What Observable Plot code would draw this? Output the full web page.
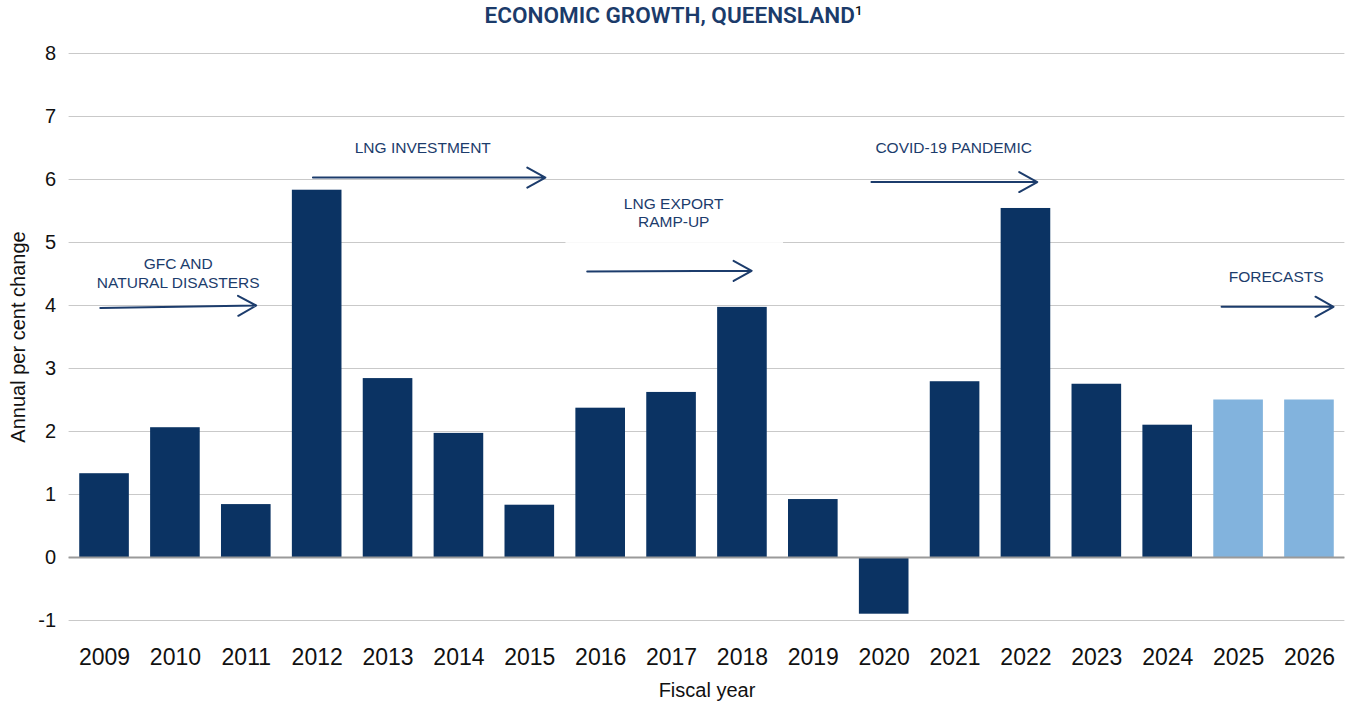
<!DOCTYPE html>
<html>
<head>
<meta charset="utf-8">
<script src="https://cdn.jsdelivr.net/npm/d3@7"></script>
<script src="https://cdn.jsdelivr.net/npm/@observablehq/plot@0.6"></script>
<style>
  html, body { margin: 0; padding: 0; background: #fff; }
  #title {
    height: 32px; line-height: 32px; text-align: center; white-space: nowrap;
  }
  #title span {
    display: inline-block; transform-origin: center;
    font-family: Roboto, "DejaVu Sans Condensed", sans-serif;
    font-weight: 600; font-size: 22px; color: #1b3b6a;
  }
  #title sup { color: #111; font-size: 13px; vertical-align: 8px; line-height: 0; font-weight: 500; }
  #chart svg { display: block; font-family: "Liberation Sans", Arial, sans-serif; }
</style>
</head>
<body>
<div id="title"><span id="tt">ECONOMIC GROWTH, QUEENSLAND<sup>1</sup></span></div>
<div id="chart"></div>
<script>
// Fiscal years and annual per cent change in Queensland GSP
const years    = [2009, 2010, 2011, 2012, 2013, 2014, 2015, 2016, 2017, 2018, 2019, 2020, 2021, 2022, 2023, 2024, 2025, 2026];
const growth   = [1.33, 2.06, 0.84, 5.83, 2.84, 1.97, 0.83, 2.37, 2.62, 3.97, 0.92, -0.90, 2.79, 5.54, 2.75, 2.10, 2.50, 2.50];
const forecast = [false, false, false, false, false, false, false, false, false, false, false, false, false, false, false, false, true, true];
const yTicks   = [-1, 0, 1, 2, 3, 4, 5, 6, 7, 8];

// Period annotations (text label and arrow extent in fiscal-year units)
const annLabels = ["GFC AND\nNATURAL DISASTERS", "LNG INVESTMENT", "LNG EXPORT\nRAMP-UP", "COVID-19 PANDEMIC", "FORECASTS"];
const annTextX  = [2010.04, 2013.49, 2017.03, 2020.98, 2025.53];
const annTextY  = [4.52, 6.52, 5.48, 6.52, 4.46];
const arrowX1   = [2008.94, 2011.94, 2015.81, 2019.82, 2024.76];
const arrowX2   = [2011.14, 2015.22, 2018.13, 2022.16, 2026.34];
const arrowY1   = [3.96, 6.03, 4.54, 5.96, 3.98];
const arrowY2   = [4.00, 6.03, 4.55, 5.96, 3.98];

const DARK = "#0b3363", LIGHT = "#82b3dd", ANN = "#1c3c6c";

const data = years.map((year, i) => ({year, value: growth[i], forecast: forecast[i]}));
const ann = annLabels.map((label, i) => ({label, tx: annTextX[i], ty: annTextY[i], x1: arrowX1[i], x2: arrowX2[i], y1: arrowY1[i], y2: arrowY2[i]}));

const chart = Plot.plot({
  width: 1347,
  height: 669,
  marginLeft: 68.6,
  marginRight: 2.6,
  marginTop: 21,
  marginBottom: 81,
  style: {fontFamily: "Liberation Sans, Arial, sans-serif", background: "#fff"},
  x: {domain: [2008.5, 2026.5]},
  y: {domain: [-1, 8]},
  marks: [
    Plot.gridY(yTicks, {stroke: "#c9c9c9", strokeOpacity: 1}),
    Plot.axisY(yTicks, {tickSize: 0, tickPadding: 13, fontSize: 20, fill: "#111", label: null, tickFormat: d => String(d)}),
    Plot.axisX(years, {tickSize: 0, tickPadding: 28, fontSize: 23, fill: "#111", label: null, tickFormat: d => String(d)}),
    Plot.text(["Annual per cent change"], {frameAnchor: "left", textAnchor: "middle", lineAnchor: "middle", dx: -50.6, rotate: -90, fontSize: 20, fill: "#111"}),
    Plot.text(["Fiscal year"], {frameAnchor: "bottom", lineAnchor: "middle", dy: 70, fontSize: 20, fill: "#111"}),
    Plot.rectY(data.filter(d => !d.forecast), {x1: d => d.year - 0.35, x2: d => d.year + 0.35, y: "value", fill: DARK}),
    Plot.rectY(data.filter(d => d.forecast), {x1: d => d.year - 0.35, x2: d => d.year + 0.35, y: "value", fill: LIGHT}),
    Plot.ruleY([0], {stroke: "#9a9a9a", strokeWidth: 2}),
    Plot.rect([ann[2]], {x1: d => d.x1 - 0.3, x2: d => d.x2 + 0.45, y1: 4.97, y2: 5.95, fill: "#fff", fillOpacity: 0.88}),
    Plot.arrow(ann, {x1: "x1", x2: "x2", y1: "y1", y2: "y2", stroke: ANN, strokeWidth: 2, headLength: 15.5, headAngle: 58, bend: 0}),
    Plot.text(ann, {x: "tx", y: "ty", text: "label", fill: ANN, fontSize: 15.5, lineHeight: 1.18})
  ]
});
document.getElementById("chart").appendChild(chart);

// Fit the condensed title to the reference width
const tt = document.getElementById("tt");
const w = tt.getBoundingClientRect().width;
if (w > 0) tt.style.transform = `scaleX(${378 / w})`;
</script>
</body>
</html>
